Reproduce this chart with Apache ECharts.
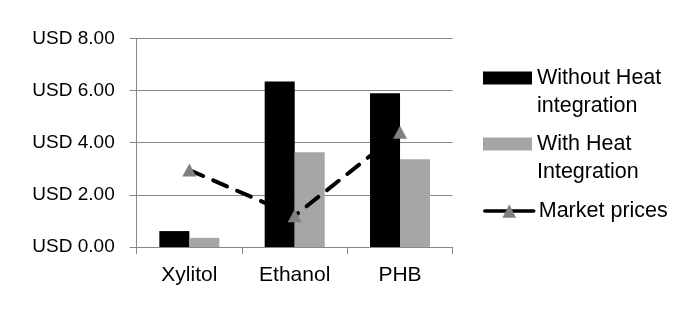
<!DOCTYPE html>
<html><head><meta charset="utf-8">
<script src="https://cdn.jsdelivr.net/npm/echarts@6/dist/echarts.min.js"></script>
<style>html,body{margin:0;padding:0;background:#fff}#c{width:698px;height:314px}</style>
</head><body><div id="c"></div>
<script>
const categories = ['Xylitol', 'Ethanol', 'PHB'];
const withoutHeat = [0.61, 6.34, 5.89];
const withHeat = [0.35, 3.63, 3.36];
const marketPrices = [2.95, 1.2, 4.4];
const yTicks = [0, 2, 4, 6, 8];

const FONT = 'Liberation Sans';
const chart = echarts.init(document.getElementById('c'));
const legendBase = {
  orient: 'vertical', left: 483, padding: 0, itemWidth: 49, itemHeight: 13, itemGap: 0,
  textStyle: { fontFamily: FONT, fontSize: 21.5, color: '#000', lineHeight: 28 }
};
chart.setOption({
  animation: false,
  textStyle: { fontFamily: FONT },
  grid: { left: 136.7, top: 38.3, right: 245.3, bottom: 67 },
  legend: [
    Object.assign({}, legendBase, { top: 36, data: [{ name: 'Without Heat\nintegration', icon: 'rect' }],
      formatter: n => '\u200b\n' + n }),
    Object.assign({}, legendBase, { top: 102, data: [{ name: 'With Heat\nIntegration', icon: 'rect' }],
      formatter: n => '\u200b\n' + n }),
    Object.assign({}, legendBase, { top: 197, itemHeight: 17, data: [{ name: 'Market prices' }],
      lineStyle: { type: 'solid', width: 3.5 } })
  ],
  xAxis: {
    type: 'category', data: categories,
    axisLine: { lineStyle: { color: '#888', width: 1 } },
    axisTick: { show: true, length: 7, lineStyle: { color: '#888' } },
    axisLabel: { fontFamily: FONT, fontSize: 21, color: '#000', margin: 18 }
  },
  yAxis: {
    type: 'value', min: 0, max: 8, interval: 2,
    axisLine: { show: true, lineStyle: { color: '#888', width: 1 } },
    axisTick: { show: true, length: 7, lineStyle: { color: '#888' } },
    splitLine: { lineStyle: { color: '#888', width: 1 } },
    axisLabel: { fontFamily: FONT, fontSize: 19, color: '#000', margin: 22,
      formatter: v => yTicks.includes(v) ? 'USD ' + v.toFixed(2) : '' }
  },
  series: [
    { name: 'Without Heat\nintegration', type: 'bar', data: withoutHeat, barWidth: '28.5%', barGap: '0%',
      itemStyle: { color: '#000' } },
    { name: 'With Heat\nIntegration', type: 'bar', data: withHeat, barWidth: '28.5%', barGap: '0%',
      itemStyle: { color: '#a6a6a6' } },
    { name: 'Market prices', type: 'line', data: marketPrices, symbol: 'triangle', symbolSize: [14, 13],
      itemStyle: { color: '#808080' },
      lineStyle: { color: '#000', width: 4, type: [15, 11], cap: 'round' }, z: 5 }
  ]
});
</script></body></html>
